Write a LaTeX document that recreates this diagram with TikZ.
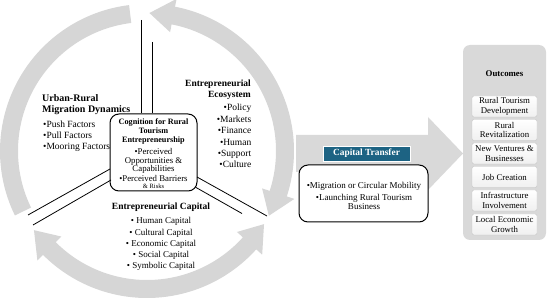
\documentclass[tikz,border=0pt]{standalone}
\usepackage{fontspec}
\setmainfont{Liberation Serif}
\usetikzlibrary{shadows}
\definecolor{ringgray}{HTML}{D6D6D6}
\definecolor{arrowgray}{HTML}{D9D9D9}
\definecolor{panelgray}{HTML}{D9D9D9}
\definecolor{tealtag}{HTML}{1D6383}
\newcommand\ringseg[2]{(#1:147) arc[start angle=#1,end angle=#2,radius=147] -- (#2:129) arc[start angle=#2,end angle=#1,radius=129] -- cycle}
\begin{document}
\begin{tikzpicture}[x=1pt,y=-1pt,
  sechd/.style={font=\bfseries\fontsize{10}{11}\selectfont, inner sep=0},
  bulA/.style={font=\fontsize{9.5}{11}\selectfont, inner sep=0},
  bulB/.style={font=\fontsize{9}{11}\selectfont, inner sep=0},
  cogbold/.style={font=\bfseries\fontsize{8.2}{9}\selectfont, inner sep=0},
  cogreg/.style={font=\fontsize{8.8}{9}\selectfont, inner sep=0},
  sepline/.style={line width=0.8pt, black},
  outbox/.style={draw=gray!45, line width=0.4pt, rounded corners=2pt, top color=white, bottom color=gray!12,
    minimum width=65pt, minimum height=21pt, inner sep=0, align=center, font=\fontsize{8.8}{9.3}\selectfont}]
\useasboundingbox (0,0) rectangle (550,302);

% ring of arrows
\begin{scope}[shift={(147,151)}]
  \fill[ringgray] \ringseg{154}{263};
  \fill[ringgray] \ringseg{280}{379};
  \fill[ringgray] (281:155) -- (271:138) -- (281:121) -- cycle;
  \fill[ringgray] (378:155) -- (388:138) -- (378:121) -- cycle;
  \fill[ringgray] \ringseg{41}{136};
  \fill[ringgray] (42:155) -- (32:138) -- (42:121) -- cycle;
  \fill[ringgray] (135:155) -- (145:138) -- (135:121) -- cycle;
\end{scope}

% big arrow
\fill[arrowgray] (296,135) -- (428,135) -- (428,117) -- (463,153.5) -- (428,190) -- (428,172) -- (296,172) -- cycle;

% center box
\node[draw, line width=1pt, rounded corners=9pt, fill=white, minimum width=87pt, minimum height=77pt] (cog) at (153.5,152.5) {};

% separators
\coordinate (tl) at (141,20);
\coordinate (tr) at (152,42);
\draw[sepline] (tl) -- (tl |- cog.north);
\draw[sepline] (tr) -- (tr |- cog.north);
\coordinate (lla) at (110,169);
\coordinate (llb) at (28,215);
\coordinate (llc) at (111,180);
\coordinate (lld) at (33,225);
\draw[sepline] (lla) -- (llb);
\draw[sepline] (llc) -- (lld);
\coordinate (lra) at (197,177);
\coordinate (lrb) at (267,216);
\coordinate (lrc) at (195.5,187.2);
\coordinate (lrd) at (242,213.5);
\draw[sepline] (lra) -- (lrb);
\draw[sepline] (lrc) -- (lrd);

% center text
\node[cogbold, anchor=base] (c1) at (153.5,124.5) {Cognition for Rural};
\node[cogbold, anchor=base] (c2) at (153.5,133.5) {Tourism};
\node[cogbold, anchor=base] (c3) at (153.5,142.5) {Entrepreneurship};
\node[cogreg, anchor=base] (c4) at (153.5,154.5) {\textbullet Perceived};
\node[cogreg, anchor=base] (c5) at (153.5,163.5) {Opportunities \&};
\node[cogreg, anchor=base] (c6) at (153.5,172) {Capabilities};
\node[cogreg, anchor=base] (c7) at (153.5,181.5) {\textbullet Perceived Barriers};
\node[font=\fontsize{6.5}{7}\selectfont, inner sep=0, anchor=base] (c8) at (153.5,189) {\& Risks};

% migration
\node[sechd, anchor=base west] (mig1) at (42,101.5) {Urban-Rural};
\node[sechd, anchor=base west] (mig2) at (42,112.5) {Migration Dynamics};
\foreach \t [count=\i] in {Push Factors, Pull Factors, Mooring Factors}
  \node[bulA, anchor=base west] (migb\i) at (43,{117+11*\i}) {\textbullet\t};

% ecosystem
\node[sechd, font=\bfseries\fontsize{9.5}{11}\selectfont, anchor=base east] (eco1) at (251,86.5) {Entrepreneurial};
\node[sechd, font=\bfseries\fontsize{9.5}{11}\selectfont, anchor=base east] (eco2) at (251,97.5) {Ecosystem};
\foreach \t [count=\i] in {Policy, Markets, Finance, Human, Support, Culture}
  \node[bulA, anchor=base east] (ecob\i) at (251.5,{99.6+11.4*\i}) {\textbullet\t};

% capital
\node[sechd, font=\bfseries\fontsize{9.5}{11}\selectfont, anchor=base] (cap0) at (161,209.5) {Entrepreneurial Capital};
\foreach \t [count=\i] in {Human Capital, Cultural Capital, Economic Capital, Social Capital, Symbolic Capital}
  \node[bulB, anchor=base] (capb\i) at (161,{212.8+11.2*\i}) {\textbullet\ \t};

% capital transfer
\node[draw, line width=1pt, rounded corners=9pt, fill=white, minimum width=129pt, minimum height=57pt] (ctbox) at (363.5,193.5) {};
\node[fill=tealtag, draw=white, line width=0.5pt, minimum width=87pt, minimum height=15pt, inner sep=0, text=white, font=\bfseries\fontsize{9.4}{10}\selectfont] (cttag) at (366.5,153.5) {Capital Transfer};
\node[font=\fontsize{9}{10}\selectfont, inner sep=0, anchor=base] (ct1) at (364,189) {\textbullet Migration or Circular Mobility};
\node[font=\fontsize{9}{10}\selectfont, inner sep=0, anchor=base] (ct2) at (364,201) {\textbullet Launching Rural Tourism};
\node[font=\fontsize{9}{10}\selectfont, inner sep=0, anchor=base] (ct3) at (364,210) {Business};

% outcomes
\node[fill=panelgray, rounded corners=7pt, minimum width=83pt, minimum height=195pt] (panel) at (504.5,142.5) {};
\node[font=\bfseries\fontsize{8.8}{10}\selectfont, inner sep=0, anchor=base] (outt) at (504.5,77) {Outcomes};
\node[outbox] (o1) at (504.5,106.5) {Rural Tourism\\Development};
\node[outbox] (o2) at (504.5,130) {Rural\\Revitalization};
\node[outbox] (o3) at (504.5,153.5) {New Ventures \&\\Businesses};
\node[outbox] (o4) at (504.5,177) {Job Creation};
\node[outbox] (o5) at (504.5,200.5) {Infrastructure\\Involvement};
\node[outbox] (o6) at (504.5,224.5) {Local Economic\\Growth};
\end{tikzpicture}
\end{document}
